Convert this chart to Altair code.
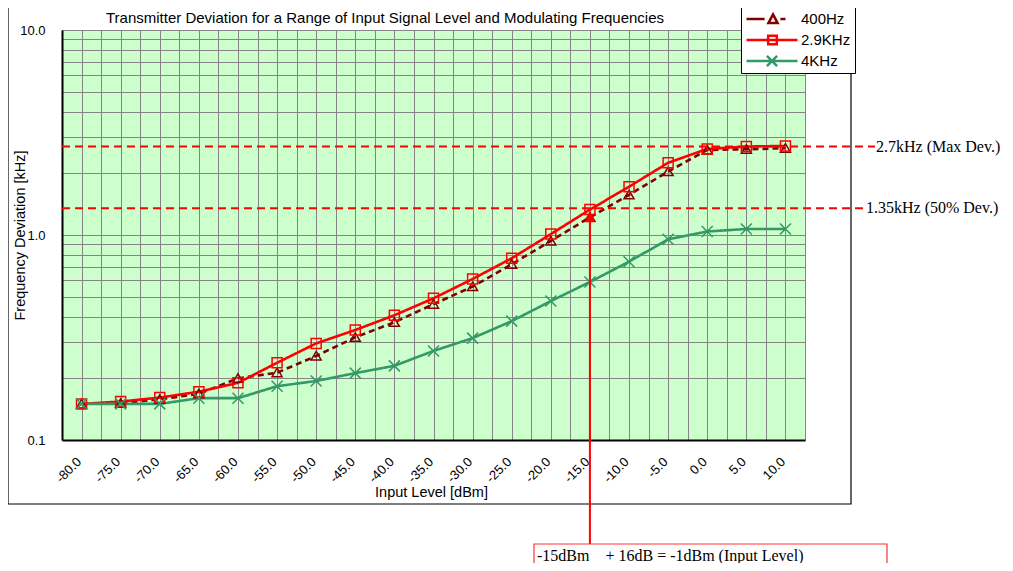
import altair as alt
import pandas as pd

# ---------------- data ----------------
levels = [-80, -75, -70, -65, -60, -55, -50, -45, -40, -35, -30, -25, -20, -15, -10, -5, 0, 5, 10]
dev_400hz = [0.150, 0.151, 0.158, 0.168, 0.200, 0.213, 0.257, 0.317, 0.375, 0.460,
             0.560, 0.720, 0.935, 1.22, 1.57, 2.04, 2.60, 2.62, 2.65]
dev_2900hz = [0.150, 0.154, 0.161, 0.172, 0.190, 0.238, 0.296, 0.344, 0.406, 0.491,
              0.610, 0.770, 1.01, 1.33, 1.72, 2.25, 2.63, 2.70, 2.72]
dev_4khz = [0.150, 0.150, 0.150, 0.160, 0.160, 0.183, 0.194, 0.212, 0.230, 0.272,
            0.314, 0.380, 0.476, 0.590, 0.741, 0.953, 1.04, 1.07, 1.07]

series_names = ["400Hz", "2.9KHz", "4KHz"]
series_colors = ["#800000", "#FF0000", "#339966"]
y_label_values = [0.1, 1, 10]

ref_values = [2.7, 1.35]
ref_labels = ["2.7kHz (Max Dev.)", "1.35kHz (50% Dev.)"]
arrow_level = [-15]
arrow_tip = [1.30]
note_text = "-15dBm\u00a0\u00a0\u00a0\u00a0+ 16dB = -1dBm (Input Level)"
title_text = "Transmitter Deviation for a Range of Input Signal Level and Modulating Frequencies"

# ---------------- tables ----------------
rows = []
for name, vals in zip(series_names, [dev_400hz, dev_2900hz, dev_4khz]):
    for lv, v in zip(levels, vals):
        rows.append({"level": lv, "dev": v, "series": name})
df = pd.DataFrame(rows)

x_grid_values = sorted([v - 2.5 for v in levels] + levels + [levels[-1] + 2.5])
y_grid_values = [round(m * 10 ** e, 6) for e in (-1, 0) for m in range(1, 10)] + [10]

GRID = "#858585"
SANS = "Liberation Sans"
SERIF = "Liberation Serif"

x_axis = alt.Axis(
    values=x_grid_values,
    labelExpr="abs(datum.value % 5) < 0.01 ? replace(format(datum.value, '.1f'), '\u2212', '-') : ''",
    labelAngle=-45, labelAlign="right", labelBaseline="top",
    labelOffset=-7, labelPadding=15, labelOverlap=False,
    labelFont=SANS, labelFontSize=13, labelColor="black",
    ticks=False, grid=True, gridColor=GRID, gridWidth=1,
    domainColor="black", domainWidth=2,
    title="Input Level [dBm]", titleFont=SANS, titleFontSize=14.5, titleFontWeight="normal",
    titleColor="black", titleX=369, titleY=52, titleBaseline="middle",
)
y_axis = alt.Axis(
    values=y_grid_values,
    labelExpr="(datum.value == 0.1 || datum.value == 1 || datum.value == 10) ? format(datum.value, '.1f') : ''",
    labelPadding=17, labelOverlap=False, labelFont=SANS, labelFontSize=13, labelColor="black",
    ticks=False, grid=True, gridColor=GRID, gridWidth=1,
    domainColor="black", domainWidth=2,
    title="Frequency Deviation [kHz]", titleFont=SANS, titleFontSize=14.5, titleFontWeight="normal",
    titleColor="black", titleX=-42, titleY=205, titleAngle=-90, titleBaseline="middle",
)

X = alt.X("level:Q", scale=alt.Scale(domain=[-82.5, 12.5], nice=False, zero=False), axis=x_axis)
Y = alt.Y("dev:Q", scale=alt.Scale(type="log", domain=[0.1, 10], nice=False), axis=y_axis)

color_scale = alt.Scale(domain=series_names, range=series_colors)

one = pd.DataFrame({"k": [0]})

# outer chart frame
frame = alt.Chart(one).mark_rect(fillOpacity=0, stroke="black", strokeWidth=1.2).encode(
    x=alt.value(-54), x2=alt.value(789), y=alt.value(-23), y2=alt.value(474)
)
title = alt.Chart(one).mark_text(align="center", baseline="middle", font=SANS, fontSize=15, color="black").encode(
    x=alt.value(323), y=alt.value(-12), text=alt.value(title_text)
)

lines = alt.Chart(df).mark_line(strokeWidth=2.6).encode(
    x=X, y=Y,
    color=alt.Color("series:N", scale=color_scale, legend=None),
    strokeDash=alt.StrokeDash("series:N", scale=alt.Scale(domain=series_names, range=[[6, 4], [1, 0], [1, 0]]), legend=None),
    order=alt.Order("level:Q"),
)

tri = "M0,-0.9L1,0.8L-1,0.8Z"
cross = "M-1.1,-1.1L1.1,1.1M1.1,-1.1L-1.1,1.1"
points = alt.Chart(df).mark_point(filled=False, size=100, strokeWidth=1.5, opacity=1).encode(
    x=X, y=Y,
    color=alt.Color("series:N", scale=color_scale, legend=None),
    shape=alt.Shape("series:N", scale=alt.Scale(domain=series_names, range=[tri, "square", cross]), legend=None),
)

# legend symbols: line + marker in one path
leg400 = "M-1,0L-0.29,0M0.33,0L0.53,0M0.04,-0.18L0.22,0.16L-0.14,0.16Z"
leg29 = "M-1,0L1,0M-0.15,-0.17L0.19,-0.17L0.19,0.17L-0.15,0.17Z"
leg4 = "M-1,0L1,0M-0.2,-0.2L0.2,0.2M0.2,-0.2L-0.2,0.2"
leg = alt.Legend(
    title=None, orient="none", legendX=679, legendY=-23,
    fillColor="white", strokeColor="black", padding=4,
    symbolSize=2601, symbolStrokeWidth=2.5, clipHeight=16, rowPadding=5,
    labelFont=SANS, labelFontSize=15, labelColor="black", labelOffset=2,
)
carrier = alt.Chart(df).mark_point(filled=False, opacity=1).encode(
    x=X, y=Y,
    color=alt.Color("series:N", scale=color_scale, legend=leg),
    shape=alt.Shape("series:N", scale=alt.Scale(domain=series_names, range=[leg400, leg29, leg4]), legend=leg),
).transform_filter("false")

# reference lines and labels
ref_layers = []
for val, lab, x_end in zip(ref_values, ref_labels, [813, 803]):
    ref_layers.append(
        alt.Chart(one).mark_rule(color="#FF0000", strokeWidth=2, strokeDash=[8, 5]).encode(
            x=alt.value(0), x2=alt.value(x_end), y=alt.datum(val)
        )
    )
    ref_layers.append(
        alt.Chart(one).mark_text(align="left", baseline="middle", font=SERIF, fontSize=16, color="black").encode(
            x=alt.value(x_end + 1), y=alt.datum(val), text=alt.value(lab)
        )
    )

arrow_df = pd.DataFrame({"level": arrow_level, "dev": arrow_tip})
arrow_line = alt.Chart(arrow_df).mark_rule(color="#FF0000", strokeWidth=2).encode(
    x=X, y=Y, y2=alt.value(514)
)
arrow_head = alt.Chart(arrow_df).mark_point(
    shape="M0,0L0.55,1.05L-0.55,1.05Z", filled=True, size=400, color="#FF0000", opacity=1, strokeWidth=0
).encode(x=X, y=Y)

note_box = alt.Chart(one).mark_rect(fillOpacity=0, stroke="#FF3333", strokeWidth=1.2).encode(
    x=alt.value(472), x2=alt.value(825), y=alt.value(514), y2=alt.value(580)
)
note = alt.Chart(one).mark_text(align="left", baseline="middle", font=SERIF, fontSize=16, color="black").encode(
    x=alt.value(475), y=alt.value(526), text=alt.value(note_text)
)

chart = alt.layer(
    frame, title, lines, points, carrier, *ref_layers, arrow_line, arrow_head, note_box, note
).resolve_scale(
    color="independent", shape="independent", strokeDash="independent"
).properties(
    width=743, height=410,
    autosize=alt.AutoSizeParams(type="none"),
    padding={"left": 54, "top": 22, "right": 200, "bottom": 123},
).configure_view(fill="#CCFFCC", strokeWidth=0)

chart.save("out.html", embed_options={"renderer": "svg", "actions": False})
